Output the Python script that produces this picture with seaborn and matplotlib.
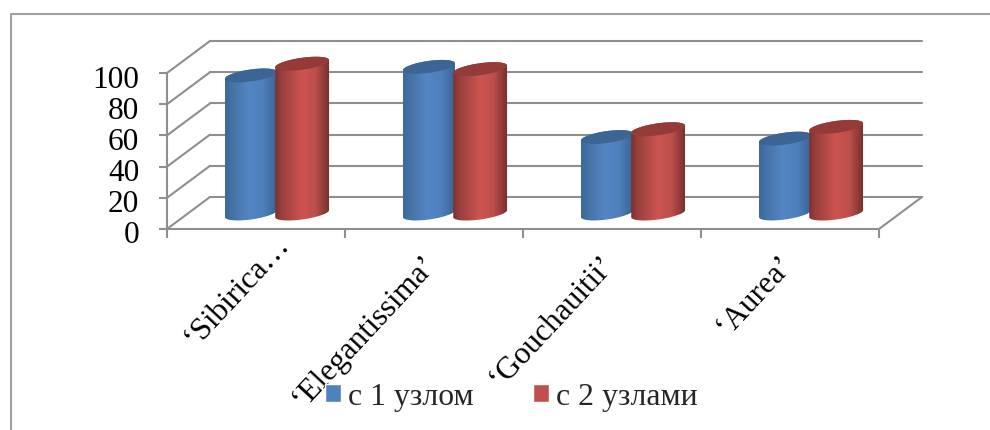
import numpy as np
import pandas as pd
import matplotlib
matplotlib.use('Agg')
import matplotlib.pyplot as plt
import seaborn as sns
from matplotlib.colors import LinearSegmentedColormap
from matplotlib.lines import Line2D
from matplotlib.path import Path
from matplotlib.patches import PathPatch
from matplotlib.transforms import Affine2D, IdentityTransform

categories = ['‘Sibirica…', '‘Elegantissima’', '‘Gouchauitii’', '‘Aurea’']
series_names = ['с 1 узлом', 'с 2 узлами']
values_1 = [88.5, 94, 49, 48]
values_2 = [96, 92.5, 54, 55.5]
y_ticks = [0, 20, 40, 60, 80, 100]

sns.set_theme(style='white')
plt.rcParams['font.family'] = ['Liberation Serif', 'DejaVu Serif']

df = pd.DataFrame({
    'cat': categories * 2,
    'series': [series_names[0]] * 4 + [series_names[1]] * 4,
    'val': values_1 + values_2,
})

W, H = 990, 431
fig = plt.figure(figsize=(W / 100, H / 100), dpi=100)
# передняя плоскость диаграммы
ax = fig.add_axes([167 / W, (H - 230) / H, 712 / W, 156 / H])

sns.barplot(data=df, x='cat', y='val', hue='series', order=categories,
            hue_order=series_names, palette=['#4F81BD', '#C0504D'],
            width=0.585, gap=0, saturation=1, ax=ax, legend=True, zorder=5)

ax.set_xlim(-0.5, 3.5)
ax.set_ylim(0, 100)
ax.set_xlabel('')
ax.set_ylabel('')

GRAY = '#8f8f8f'
LW = 1.5
for name in ['top', 'right']:
    ax.spines[name].set_visible(False)
for name in ['left', 'bottom']:
    ax.spines[name].set_color(GRAY)
    ax.spines[name].set_linewidth(LW)

ax.set_yticks(y_ticks)
ax.tick_params(axis='y', length=6, width=LW, color=GRAY, pad=14, labelsize=22.5,
               labelcolor='black', left=True)
for lab in ax.get_yticklabels():
    lab.set_transform(lab.get_transform() + Affine2D().translate(0, -2.5))
ax.set_xticks(range(len(categories)))
ax.set_xticklabels(categories, rotation=47, ha='right', va='top',
                   rotation_mode='anchor', fontsize=22.5, color='black')
ax.set_xticks(np.arange(-0.5, 4), minor=True)
ax.tick_params(axis='x', which='major', length=0, pad=18, bottom=False)
ax.tick_params(axis='x', which='minor', length=6.5, width=LW, color=GRAY, bottom=True)
# общий сдвиг подписей, подпись с многоточием стоит правее остальных
label_shift = [(18, 25), (-13, 5), (-13, 5), (-13, 5)]
for lab, (dx, dy) in zip(ax.get_xticklabels(), label_shift):
    lab.set_transform(lab.get_transform() + Affine2D().translate(dx, dy))

# задняя стена и боковые грани, сдвиг в пикселях
BACK = (43, 32)
back_tr = ax.transData + Affine2D().translate(*BACK)
for v in y_ticks:
    ax.plot([-0.5, 3.5], [v, v], color=GRAY, lw=LW, transform=back_tr,
            clip_on=False, zorder=1)
    x0, y0 = ax.transData.transform((-0.5, v))
    ax.add_line(Line2D([x0, x0 + BACK[0]], [y0, y0 + BACK[1]], color=GRAY, lw=LW,
                       transform=IdentityTransform(), clip_on=False, zorder=1))
x0, y0 = ax.transData.transform((3.5, 0))
ax.add_line(Line2D([x0, x0 + BACK[0]], [y0, y0 + BACK[1]], color=GRAY, lw=LW,
                   transform=IdentityTransform(), clip_on=False, zorder=1))

# цилиндры: бары сдвигаем на середину глубины и рисуем тень и крышку
MID = (21, 15.5)
mid_tr = ax.transData + Affine2D().translate(*MID)
px_x = ax.transData.transform((1, 0))[0] - ax.transData.transform((0, 0))[0]
px_y = ax.transData.transform((0, 1))[1] - ax.transData.transform((0, 0))[1]
RY = 6.0 / px_y
SLOPE = (3.5 / px_y) / (26.0 / px_x)

cmaps = [
    LinearSegmentedColormap.from_list('b', [(0, '#3d6899'), (0.15, '#4674a8'), (0.45, '#5485c4'),
                                            (0.72, '#4f80bd'), (1, '#3a6291')]),
    LinearSegmentedColormap.from_list('r', [(0, '#7c3230'), (0.12, '#98403d'), (0.5, '#cd5450'),
                                            (0.75, '#bd4f4c'), (1, '#7a302e')]),
]
top_colors = ['#3c6595', '#943a39']
grad = np.linspace(0, 1, 128).reshape(1, -1)

for i, cont in enumerate(ax.containers):
    for bar in cont:
        xl, w, h = bar.get_x(), bar.get_width(), bar.get_height()
        # красные цилиндры чуть шире и заходят на синие
        if i == 1:
            xl, w = xl - 0.01, w + 0.01
        cx = xl + w / 2
        t = np.linspace(np.pi, 2 * np.pi, 40)
        bx = cx + w / 2 * np.cos(t)
        low = RY * np.sin(t) + SLOPE * (w / 2) * np.cos(t)
        t2 = t - np.pi
        ux = cx + w / 2 * np.cos(t2)
        upp = RY * np.sin(t2) + SLOPE * (w / 2) * np.cos(t2)
        sil = np.r_[np.c_[bx, low], np.c_[ux, h + upp]]
        path = Path(np.r_[sil, sil[:1]], closed=True)

        z = 5 + i * 3
        bar.set_transform(mid_tr)
        bar.set_clip_box(fig.bbox)
        bar.set_clip_path(path, mid_tr)
        bar.set_zorder(z)
        im = ax.imshow(grad, extent=(xl, xl + w, -RY * 3, h + RY * 3), aspect='auto',
                       cmap=cmaps[i], transform=mid_tr, zorder=z + 1)
        im.set_clip_box(fig.bbox)
        im.set_clip_path(path, mid_tr)

        tt = np.linspace(0, 2 * np.pi, 80)
        cap = np.c_[cx + w / 2 * np.cos(tt),
                    h + RY * np.sin(tt) + SLOPE * (w / 2) * np.cos(tt)]
        ax.add_patch(PathPatch(Path(cap, closed=True), fc=top_colors[i], ec='none',
                               transform=mid_tr, clip_on=False, zorder=z + 2))

ax.set_xlim(-0.5, 3.5)
ax.set_ylim(0, 100)

handles, labels = ax.get_legend_handles_labels()
ax.legend(handles, labels, ncol=2, frameon=False, fontsize=22.9, loc='center',
          bbox_to_anchor=(511.5 / W, (H - 398) / H), bbox_transform=fig.transFigure,
          handlelength=0.52, handleheight=0.52, handletextpad=0.22, columnspacing=1.85,
          borderpad=0, borderaxespad=0)

# рамка области диаграммы
fig.add_artist(Line2D([10.5, 10.5, 990], [0, H - 14.5, H - 14.5], color='#a0a0a0', lw=1.5,
                      transform=IdentityTransform()))

fig.savefig('out.png', dpi=100)
